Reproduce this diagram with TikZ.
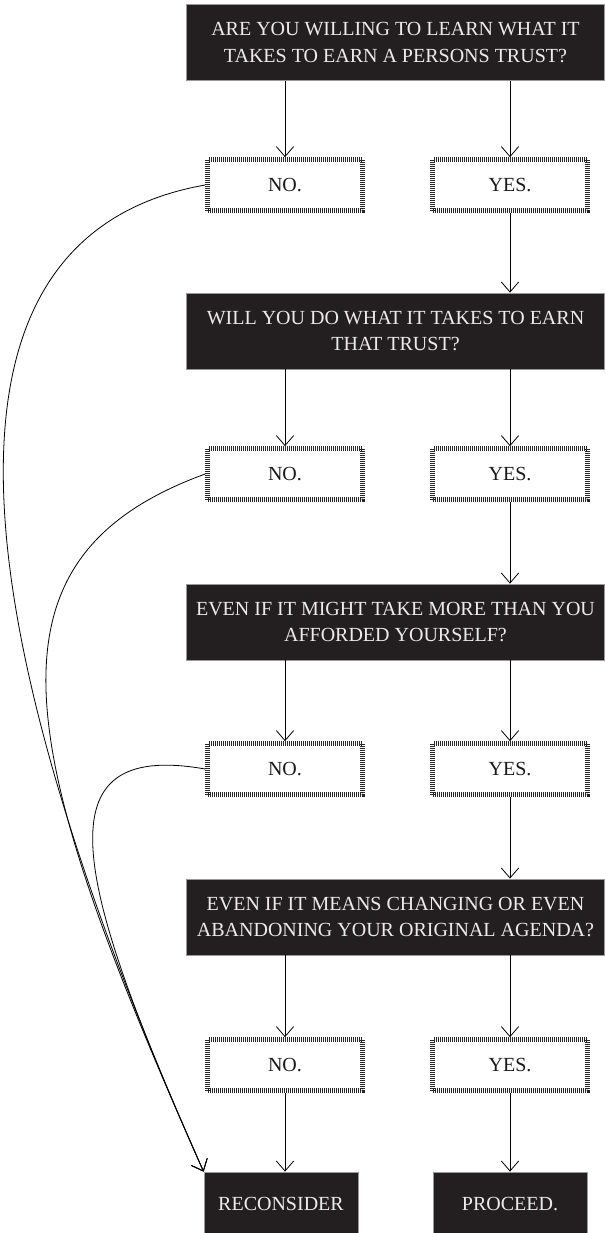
\documentclass[tikz,border=0pt]{standalone}
\usepackage{fontspec}
\setmainfont{Liberation Serif}
\usetikzlibrary{arrows.meta}

\definecolor{boxdark}{HTML}{231F20}

\tikzset{
	question/.style={fill=boxdark, draw=black!40, line width=0.6pt, text=white!92!black,
		align=center, minimum width=314pt, minimum height=57pt, inner sep=0pt,
		font=\fontsize{15}{20}\selectfont},
	answer/.style={draw=black!85, line width=3.75pt, dash pattern=on 0.75pt off 0.75pt,
		minimum width=116pt, minimum height=38pt, inner sep=0pt, text=black!90,
		font=\fontsize{15}{20}\selectfont},
	final/.style={fill=boxdark, draw=black!40, line width=0.6pt, text=white!92!black,
		minimum width=115.5pt, minimum height=48pt, inner sep=0pt,
		font=\fontsize{15}{20}\selectfont},
	link/.style={line width=0.6pt, arrows={-{Straight Barb[length=7.5pt,width=13pt]}}}
}

\begin{document}
\begin{tikzpicture}[x=0.75pt, y=0.75pt]
		\useasboundingbox (0,0) rectangle (605,-1233);
		\node[question] (Q1) at (395.5,-42.5) {ARE YOU WILLING TO LEARN WHAT IT\\TAKES TO EARN A PERSONS TRUST?};
		\node[question] (Q2) at (395.5,-331) {WILL YOU DO WHAT IT TAKES TO EARN\\THAT TRUST?};
		\node[question] (Q3) at (395.5,-622) {EVEN IF IT MIGHT TAKE MORE THAN YOU\\AFFORDED YOURSELF?};
		\node[question] (Q4) at (395.5,-917) {EVEN IF IT MEANS CHANGING OR EVEN\\ABANDONING YOUR ORIGINAL AGENDA?};
		\foreach \i/\y in {1/185,2/474,3/769,4/1065} {
			\node[answer] (N\i) at (285,-\y) {NO.};
			\node[answer] (Y\i) at (510,-\y) {YES.};
		}
		\node[final] (R) at (281,-1204) {RECONSIDER};
		\node[final] (P) at (510,-1204) {PROCEED.};
		\foreach \i in {1,...,4} {
			\draw [link] (N\i |- Q\i.south) -- (N\i.north);
			\draw [link] (Y\i |- Q\i.south) -- (Y\i.north);
		}
		\foreach \i/\j in {1/2,2/3,3/4} {
			\draw [link] (Y\i.south) -- (Y\i.south |- Q\j.north);
		}
		\draw [link] (N4.south) -- (N4.south |- R.north);
		\draw [link] (Y4.south) -- (P.north);
		% the three NO answers all lead back to RECONSIDER
		\draw [link] (N1.west) to[out=190, in=114, out distance=210pt, in distance=480pt] (R.north west);
		\draw [link] (N2.west) to[out=200, in=114, out distance=187pt, in distance=345pt] (R.north west);
		\draw [link] (N3.west) to[out=170, in=114, out distance=127pt, in distance=240pt] (R.north west);
\end{tikzpicture}
\end{document}
